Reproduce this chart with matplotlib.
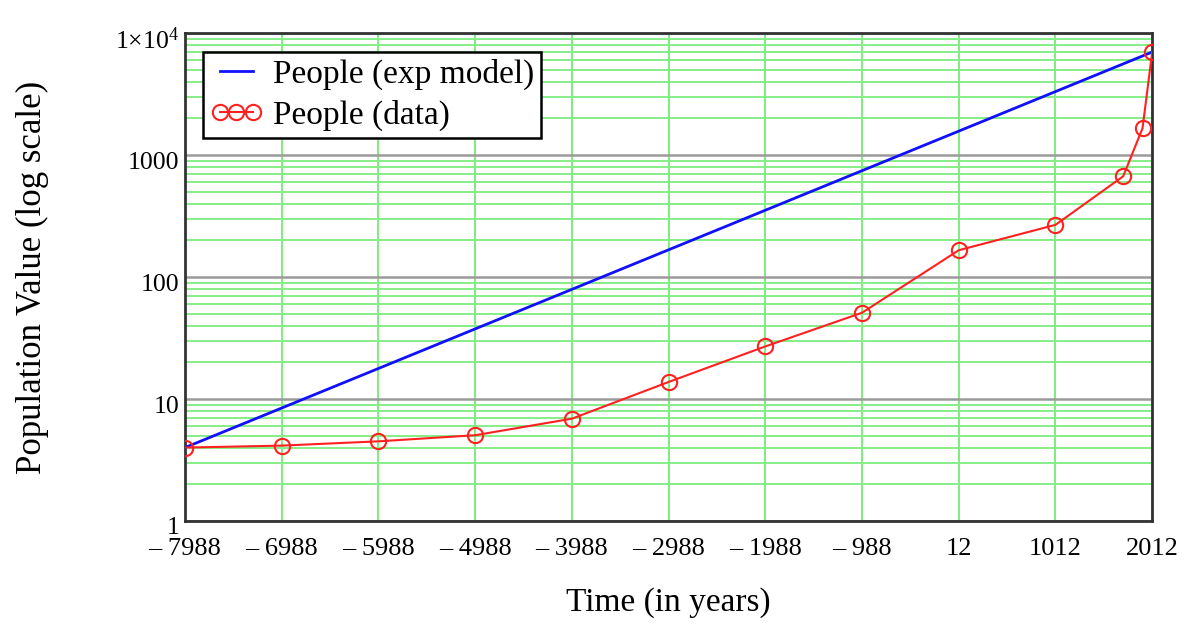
import matplotlib
matplotlib.use("Agg")
import matplotlib.pyplot as plt
import matplotlib.transforms as mtransforms
from matplotlib.ticker import FixedLocator, LogLocator, NullFormatter

plt.rcParams['font.family'] = ['Liberation Serif', 'DejaVu Serif']
plt.rcParams['mathtext.fontset'] = 'custom'
plt.rcParams['mathtext.rm'] = 'Liberation Serif'
plt.rcParams['mathtext.it'] = 'Liberation Serif:italic'

# data (population values)
data_years = [-7988, -6988, -5988, -4988, -3988, -2988, -1988, -988, 12, 1012, 1712, 1912, 2012]
data_values = [4.0, 4.15, 4.5, 5.05, 6.9, 13.8, 27, 51, 166, 268, 670, 1660, 7000]

# exponential model: straight line on the log axis between its end values
model_years = [-7988, 2012]
model_values = [4.0, 7000]

x_ticks = [-7988, -6988, -5988, -4988, -3988, -2988, -1988, -988, 12, 1012, 2012]
x_tick_labels = ['\u2013 7988', '\u2013 6988', '\u2013 5988', '\u2013 4988', '\u2013 3988',
                 '\u2013 2988', '\u2013 1988', '\u2013 988', '12', '1012', '2012']
y_ticks = [1, 10, 100, 1000, 10000]
y_tick_labels = ['1', '10', '100', '1000', r'1$\times$10$^4$']

fig = plt.figure(figsize=(11.86, 6.25), dpi=100)
ax = fig.add_axes([0.156, 0.1664, 0.8155, 0.7806])

ax.set_yscale('log')
ax.set_xlim(-7988, 2012)
ax.set_ylim(1, 10000)

# grid
ax.xaxis.set_major_locator(FixedLocator(x_ticks))
ax.set_xticklabels(x_tick_labels)
ax.yaxis.set_major_locator(FixedLocator(y_ticks))
ax.set_yticklabels(y_tick_labels)
ax.yaxis.set_minor_locator(LogLocator(base=10, subs=range(2, 10)))
ax.yaxis.set_minor_formatter(NullFormatter())
ax.set_axisbelow(True)
ax.grid(True, axis='x', which='major', color='#74ec74', lw=1.3)
ax.grid(True, axis='y', which='minor', color='#86ee86', lw=1.4)
ax.grid(True, axis='y', which='major', color='#9a9a9a', lw=1.8)

ax.plot(model_years, model_values, color='#1010ff', lw=2.0, label='People (exp model)', zorder=3)
ax.plot(data_years, data_values, color='#ff2020', lw=1.5, marker='o', markersize=11,
        markerfacecolor='none', markeredgecolor='#ff2020', markeredgewidth=1.5,
        label='People (data)', zorder=4)

ax.tick_params(which='both', length=0)
ax.tick_params(axis='x', labelsize=19, pad=12)
ax.tick_params(axis='y', labelsize=18.5, pad=4)
offset = mtransforms.ScaledTranslation(0, -5 / 100, fig.dpi_scale_trans)
for lab in ax.get_yticklabels():
    lab.set_transform(lab.get_transform() + offset)

for s in ax.spines.values():
    s.set_color('#333333')
    s.set_linewidth(2)

ax.set_xlabel('Time (in years)', fontsize=24, labelpad=20)
ax.set_ylabel('Population Value (log scale)', fontsize=25, labelpad=48)

leg = ax.legend(loc='upper left', bbox_to_anchor=(0.0186, 0.961), borderaxespad=0,
                fontsize=24, numpoints=3, handlelength=1.6, handletextpad=0.3,
                fancybox=False, framealpha=1, edgecolor='black',
                borderpad=0.2, labelspacing=0.3)
leg.get_frame().set_linewidth(1.8)
for h in leg.legend_handles:
    h.set_markersize(11)

fig.savefig('out.png', dpi=100)
